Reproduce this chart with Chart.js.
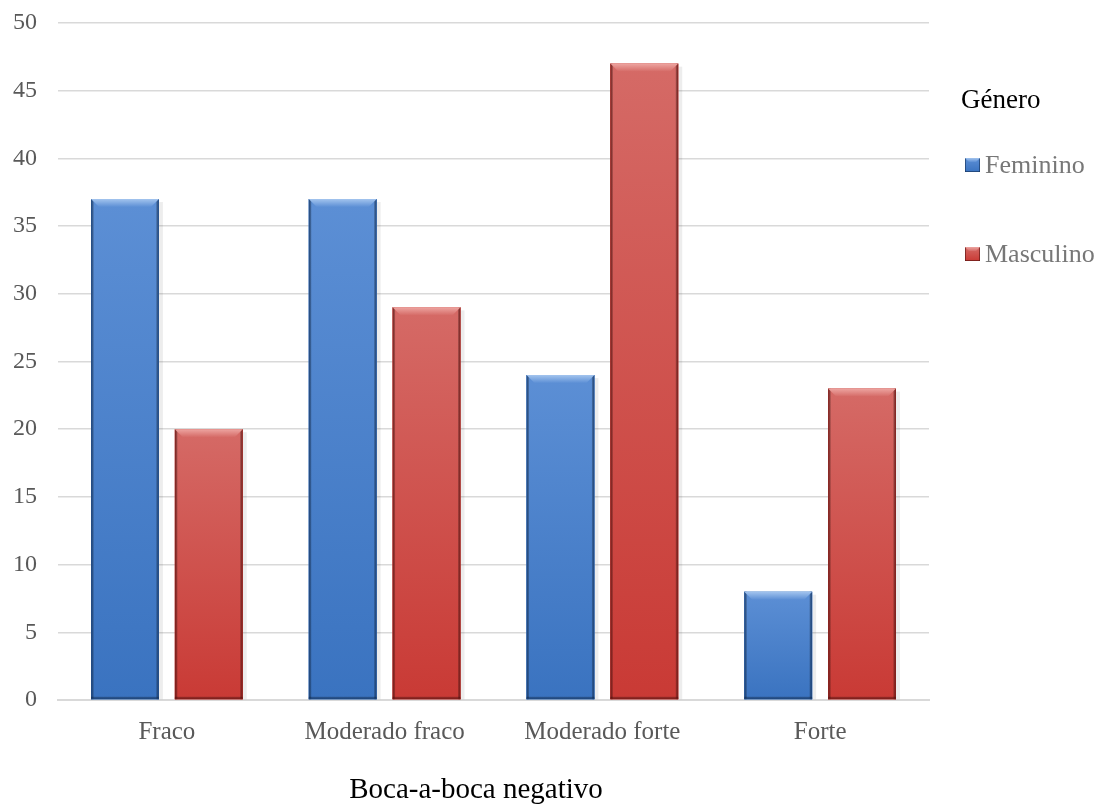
<!DOCTYPE html>
<html lang="pt">
<head>
    <meta charset="UTF-8">
    <title>Boca-a-boca negativo por género</title>
    <script src="https://cdn.jsdelivr.net/npm/chart.js@4.4.1/dist/chart.umd.min.js"></script>
    <style>
        body, html {
            height: 100%;
            margin: 0;
            padding: 0;
            background: #ffffff;
        }
        #wrap {
            width: 1104px;
            height: 807px;
        }
    </style>
</head>
<body>
    <div id="wrap"><canvas id="myChart"></canvas></div>

    <script>
        // Categories and counts per gender
        const categorias = ['Fraco', 'Moderado fraco', 'Moderado forte', 'Forte'];
        const feminino = [37, 37, 24, 8];
        const masculino = [20, 29, 47, 23];
        const yTicks = [0, 5, 10, 15, 20, 25, 30, 35, 40, 45, 50];
        const legendTitle = 'Género';
        const xTitle = 'Boca-a-boca negativo';

        const serif = "'Liberation Serif', 'Times New Roman', serif";

        // Colours for the bevelled bars: [top bevel, face top, face bottom, edge]
        const palette = {
            Feminino: ['#a3c4ee', '#5c8fd5', '#3a73c0', '#22508f'],
            Masculino: ['#eda5a1', '#d56a66', '#c93a35', '#8c201c']
        };

        function drawBevel(ctx, x0, y0, x1, y1, c, b, edge) {
            // face
            const g = ctx.createLinearGradient(0, y0, 0, y1);
            g.addColorStop(0, c[1]);
            g.addColorStop(1, c[2]);
            ctx.fillStyle = g;
            ctx.fillRect(x0, y0, x1 - x0, y1 - y0);
            // darker sides and bottom
            const sl = ctx.createLinearGradient(x0, 0, x0 + edge, 0);
            sl.addColorStop(0, c[3]);
            sl.addColorStop(1, 'rgba(0,0,0,0)');
            ctx.fillStyle = sl;
            ctx.fillRect(x0, y0, edge, y1 - y0);
            const sr = ctx.createLinearGradient(x1, 0, x1 - edge, 0);
            sr.addColorStop(0, c[3]);
            sr.addColorStop(1, 'rgba(0,0,0,0)');
            ctx.fillStyle = sr;
            ctx.fillRect(x1 - edge, y0, edge, y1 - y0);
            const sb = ctx.createLinearGradient(0, y1, 0, y1 - edge);
            sb.addColorStop(0, c[3]);
            sb.addColorStop(1, 'rgba(0,0,0,0)');
            ctx.fillStyle = sb;
            ctx.fillRect(x0, y1 - edge, x1 - x0, edge);
            // chamfered top
            const gt = ctx.createLinearGradient(0, y0, 0, y0 + b);
            gt.addColorStop(0, c[0]);
            gt.addColorStop(1, c[1]);
            ctx.fillStyle = gt;
            ctx.beginPath();
            ctx.moveTo(x0, y0);
            ctx.lineTo(x1, y0);
            ctx.lineTo(x1 - b, y0 + b);
            ctx.lineTo(x0 + b, y0 + b);
            ctx.closePath();
            ctx.fill();
        }

        // Paints each bar over the plain fill
        const bevelBars = {
            id: 'bevelBars',
            afterDatasetsDraw(chart) {
                const ctx = chart.ctx;
                chart.data.datasets.forEach((ds, i) => {
                    const meta = chart.getDatasetMeta(i);
                    const c = palette[ds.label];
                    meta.data.forEach(bar => {
                        const x0 = bar.x - bar.width / 2;
                        const x1 = bar.x + bar.width / 2;
                        ctx.save();
                        ctx.fillStyle = 'rgba(0,0,0,0.07)';
                        ctx.fillRect(x1, bar.y + 3, 4, bar.base - bar.y - 3);
                        drawBevel(ctx, x0, bar.y, x1, bar.base, c, 8, 3);
                        ctx.restore();
                    });
                });
            }
        };

        // Legend to the right of the plot and the axis title below it
        const sideLegend = {
            id: 'sideLegend',
            afterDraw(chart) {
                const ctx = chart.ctx;
                const left = chart.chartArea.right + 32;
                ctx.save();
                ctx.textBaseline = 'alphabetic';
                ctx.textAlign = 'left';
                ctx.fillStyle = '#000000';
                ctx.font = '27px ' + serif;
                ctx.fillText(legendTitle, left, 108);
                ctx.font = '26px ' + serif;
                chart.data.datasets.forEach((ds, i) => {
                    const base = 173 + i * 89;
                    drawBevel(ctx, left + 4, base - 15, left + 19, base - 1, palette[ds.label], 4, 1.5);
                    ctx.fillStyle = '#777777';
                    ctx.fillText(ds.label, left + 24, base);
                });
                ctx.textAlign = 'center';
                ctx.fillStyle = '#000000';
                ctx.font = '29px ' + serif;
                ctx.fillText(xTitle, 476, 798);
                ctx.restore();
            }
        };

        const canvas = document.getElementById('myChart');
        const myChart = new Chart(canvas.getContext('2d'), {
            type: 'bar',
            data: {
                labels: categorias,
                datasets: [{
                    label: 'Feminino',
                    data: feminino,
                    backgroundColor: '#3a73c0',
                    borderWidth: 0,
                    categoryPercentage: 0.77,
                    barPercentage: 0.81
                }, {
                    label: 'Masculino',
                    data: masculino,
                    backgroundColor: '#c93a35',
                    borderWidth: 0,
                    categoryPercentage: 0.77,
                    barPercentage: 0.81
                }]
            },
            options: {
                responsive: true,
                maintainAspectRatio: false,
                animation: false,
                layout: {
                    padding: { top: 23, left: 13, right: 175, bottom: 43 }
                },
                plugins: {
                    tooltip: { enabled: false },
                    legend: { display: false }
                },
                scales: {
                    x: {
                        grid: { display: false, drawTicks: false },
                        border: { display: true, color: '#d9d9d9', width: 2 },
                        ticks: {
                            color: '#595959',
                            font: { family: serif, size: 25 },
                            padding: 17
                        }
                    },
                    y: {
                        min: 0,
                        max: 50,
                        afterBuildTicks(axis) {
                            axis.ticks = yTicks.map(v => ({ value: v }));
                        },
                        afterFit(axis) {
                            axis.width = 45;
                            axis.paddingTop = 0;
                            axis.paddingBottom = 0;
                        },
                        grid: { color: '#d9d9d9', lineWidth: 1.5, drawTicks: false },
                        border: { display: false },
                        ticks: {
                            color: '#595959',
                            font: { family: serif, size: 24 },
                            padding: 21
                        }
                    }
                }
            },
            plugins: [bevelBars, sideLegend]
        });
    </script>
</body>
</html>
